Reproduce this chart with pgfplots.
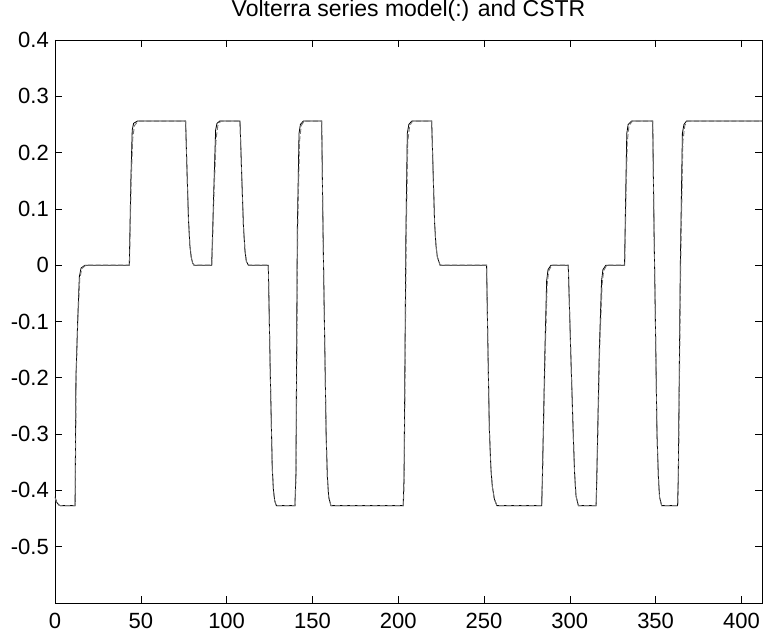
\documentclass[border=0pt]{standalone}
\usepackage{fontspec}
\setmainfont{Liberation Sans}
\usepackage{pgfplots}
\pgfplotsset{compat=1.18}
\usepackage{pgfplotstable}

\pgfplotstableread{
x y
0 -0.411
1 -0.421
2 -0.425
3 -0.427
11.7 -0.427
12.2 -0.20
13.2 -0.10
14.2 -0.02
15.2 -0.005
17.5 0
43.3 0
44.2 0.15
45.0 0.24
45.8 0.252
48.0 0.256
76.1 0.256
77.0 0.16
77.8 0.08
78.6 0.035
79.4 0.014
80.2 0.004
81.0 0
91.3 0
92.5 0.13
93.6 0.24
94.4 0.252
96.0 0.256
107.8 0.256
108.8 0.16
109.8 0.07
110.7 0.026
111.5 0.007
112.7 0
124.3 0
125.5 -0.20
126.6 -0.36
127.3 -0.40
128.0 -0.418
129.0 -0.427
139.8 -0.427
140.4 -0.37
141.2 0.06
142.2 0.234
143.0 0.25
144.7 0.256
155.4 0.256
156.2 0.06
156.8 -0.063
158.0 -0.30
158.7 -0.375
159.5 -0.412
160.8 -0.427
202.9 -0.427
203.4 -0.378
204.5 0.06
205.3 0.234
206.2 0.25
207.9 0.256
219.5 0.256
220.4 0.16
221.2 0.075
222.0 0.035
222.8 0.015
224.4 0
251.5 0
252.3 -0.15
253.1 -0.29
254.0 -0.36
254.8 -0.392
256.0 -0.415
257.5 -0.427
283.6 -0.427
284.0 -0.378
285.5 -0.15
286.5 -0.028
287.3 -0.008
289.0 0
299.1 0
300.5 -0.15
302.0 -0.30
302.8 -0.37
303.6 -0.41
305.0 -0.427
315.3 -0.427
315.7 -0.378
317.2 -0.15
318.5 -0.028
319.3 -0.008
321.0 0
331.9 0
332.6 0.13
333.2 0.234
334.0 0.25
336.0 0.256
348.3 0.256
349.1 0.06
349.7 -0.063
350.8 -0.30
351.6 -0.375
352.3 -0.412
353.5 -0.427
362.8 -0.427
363.2 -0.378
364.4 0.0
365.6 0.234
366.5 0.25
368.0 0.256
412 0.256
}\cstr

\pgfplotstableread{
x y
0 -0.413
1 -0.422
2 -0.426
3 -0.427
11.8 -0.427
12.3 -0.20
13.3 -0.10
14.4 -0.025
15.6 -0.006
18.0 0
43.4 0
44.4 0.15
45.3 0.225
46.3 0.248
48.5 0.256
76.1 0.256
77.0 0.16
77.8 0.08
78.6 0.035
79.4 0.014
80.2 0.004
81.0 0
91.4 0
92.7 0.13
93.9 0.225
94.9 0.248
96.5 0.256
107.8 0.256
108.8 0.16
109.8 0.07
110.7 0.026
111.5 0.007
112.7 0
124.3 0
125.5 -0.20
126.6 -0.36
127.3 -0.40
128.0 -0.418
129.0 -0.427
139.9 -0.427
140.5 -0.37
141.4 0.06
142.5 0.22
143.5 0.248
145.2 0.256
155.4 0.256
156.2 0.06
156.8 -0.063
158.0 -0.30
158.7 -0.375
159.5 -0.412
160.8 -0.427
203.0 -0.427
203.5 -0.378
204.7 0.06
205.6 0.22
206.7 0.248
208.4 0.256
219.5 0.256
220.4 0.16
221.2 0.075
222.0 0.035
222.8 0.015
224.4 0
251.5 0
252.3 -0.15
253.1 -0.29
254.0 -0.36
254.8 -0.392
256.0 -0.415
257.5 -0.427
283.7 -0.427
284.1 -0.378
285.7 -0.15
286.8 -0.035
287.7 -0.01
289.5 0
299.1 0
300.5 -0.15
302.0 -0.30
302.8 -0.37
303.6 -0.41
305.0 -0.427
315.4 -0.427
315.8 -0.378
317.4 -0.15
318.8 -0.035
319.7 -0.01
321.5 0
332.0 0
332.8 0.13
333.5 0.22
334.5 0.248
336.5 0.256
348.3 0.256
349.1 0.06
349.7 -0.063
350.8 -0.30
351.6 -0.375
352.3 -0.412
353.5 -0.427
362.9 -0.427
363.3 -0.378
364.6 0.0
365.9 0.22
367.0 0.248
368.5 0.256
412 0.256
}\volterra

\begin{document}
\begin{tikzpicture}
\begin{axis}[
  at={(0,0)}, anchor=south west,
  scale only axis,
  width=707bp, height=563bp,
  xmin=0, xmax=412, ymin=-0.6, ymax=0.4,
  xtick={0,50,100,150,200,250,300,350,400},
  xticklabels={0,50,100,150,200,250,300,350,400},
  ytick={-0.5,-0.4,-0.3,-0.2,-0.1,0,0.1,0.2,0.3,0.4},
  yticklabels={-0.5,-0.4,-0.3,-0.2,-0.1,0,0.1,0.2,0.3,0.4},
  /pgf/number format/assume math mode=true,
  tick align=inside,
  tick pos=both,
  major tick length=7bp,
  tick style={black, line width=0.6bp},
  axis line style={black, line width=0.8bp},
  ticklabel style={font=\fontsize{22bp}{26bp}\selectfont},
  xticklabel style={anchor=base, yshift=-25.3bp},
  yticklabel style={anchor=east, inner sep=0pt, xshift=-6bp},
  title={Volterra series model(:) and CSTR},
  title style={font=\fontsize{23bp}{27bp}\selectfont, anchor=base, inner sep=0pt, at={(0.5,1)}, yshift=17.3bp},
  clip=true,
]
\addplot[black, line width=0.8bp] table[x=x,y=y] {\cstr};
\addplot[black!55, line width=0.9bp, dash pattern=on 5bp off 2.5bp] table[x=x,y=y] {\volterra};
\end{axis}
\pgfresetboundingbox
\useasboundingbox (-55bp,-29bp) rectangle (708bp,603bp);
\end{tikzpicture}
\end{document}
